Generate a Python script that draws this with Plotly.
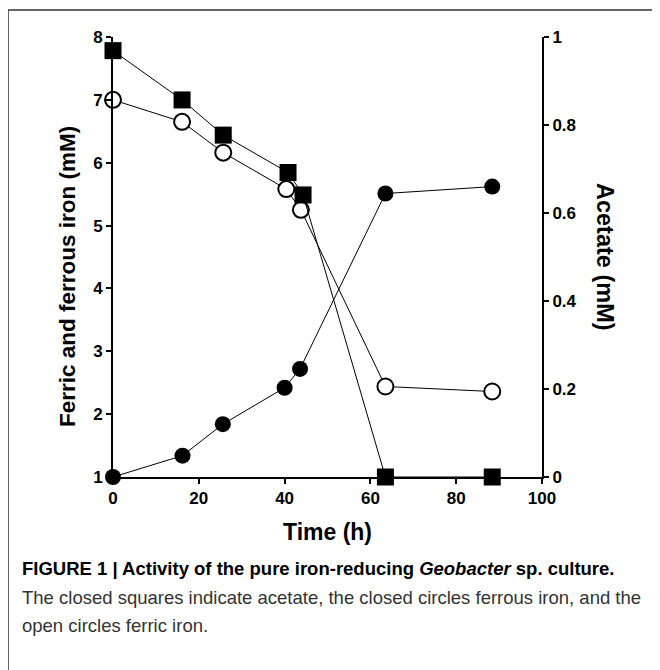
import plotly.graph_objects as go

# Data
time_acetate = [0, 16.1, 25.7, 40.8, 44.3, 63.5, 88.4]
acetate_mM = [0.969, 0.857, 0.777, 0.692, 0.641, 0.0, 0.0]

time_ferric = [0, 16.1, 25.7, 40.4, 43.8, 63.5, 88.4]
ferric_mM = [7.0, 6.65, 6.16, 5.58, 5.25, 2.44, 2.36]

time_ferrous = [0, 16.2, 25.6, 40.0, 43.6, 63.5, 88.4]
ferrous_mM = [1.0, 1.34, 1.84, 2.42, 2.72, 5.51, 5.62]

x_ticks = [0, 20, 40, 60, 80, 100]
left_ticks = [1, 2, 3, 4, 5, 6, 7, 8]
right_ticks = [0, 0.2, 0.4, 0.6, 0.8, 1]
right_ticklabels = ["0", "0.2", "0.4", "0.6", "0.8", "1"]

# Plot area in reference pixels; page body adds an 8px offset
W, H = 660, 670
OFF = 8
L, R, T, B = 113, 542, 37, 477
pw, ph = R - L, B - T

def px(x):
    return (x - L) / pw

def py(y):
    return (B - y) / ph

FONT = "Liberation Sans, Arial, sans-serif"

fig = go.Figure()

fig.add_trace(go.Scatter(
    x=time_acetate, y=acetate_mM, yaxis="y2", mode="lines+markers",
    line=dict(color="black", width=1),
    marker=dict(symbol="square", size=17, color="black"),
    cliponaxis=False, showlegend=False, name="Acetate"))

fig.add_trace(go.Scatter(
    x=time_ferric, y=ferric_mM, mode="lines+markers",
    line=dict(color="black", width=1),
    marker=dict(symbol="circle", size=16, color="white",
                line=dict(color="black", width=2)),
    cliponaxis=False, showlegend=False, name="Ferric iron"))

fig.add_trace(go.Scatter(
    x=time_ferrous, y=ferrous_mM, mode="lines+markers",
    line=dict(color="black", width=1),
    marker=dict(symbol="circle", size=16, color="black"),
    cliponaxis=False, showlegend=False, name="Ferrous iron"))

tickfont = dict(family=FONT, size=17, color="black", weight="bold")

fig.update_layout(
    width=W, height=H,
    margin=dict(l=L - OFF, r=W - R + OFF, t=T - OFF, b=H - B + OFF, pad=0),
    paper_bgcolor="white", plot_bgcolor="white",
    xaxis=dict(range=[0, 100], tickvals=x_ticks, showgrid=False, zeroline=False,
               showline=True, linecolor="black", linewidth=2,
               ticks="outside", ticklen=5, tickwidth=2, tickcolor="black",
               tickfont=tickfont),
    yaxis=dict(range=[1, 8], tickvals=left_ticks, showgrid=False, zeroline=False,
               showline=True, linecolor="black", linewidth=2,
               ticks="outside", ticklen=5, tickwidth=2, tickcolor="black",
               tickfont=tickfont),
    yaxis2=dict(range=[0, 1], tickvals=right_ticks, ticktext=right_ticklabels,
                overlaying="y", side="right", showgrid=False, zeroline=False,
                showline=True, linecolor="black", linewidth=2,
                ticks="outside", ticklen=5, tickwidth=2, tickcolor="black",
                tickfont=tickfont),
)

def tf(size):
    return dict(family=FONT, size=size, color="black", weight="bold")

annotations = [
    dict(text="Ferric and ferrous iron (mM)", x=px(67), y=py(277), textangle=-90,
         font=tf(22.5)),
    dict(text="Acetate (mM)", x=px(605), y=py(257), textangle=90, font=tf(23.5)),
    dict(text="Time (h)", x=px(327), y=py(532), font=tf(23)),
    dict(text="<b>FIGURE 1 | Activity of the pure iron-reducing <i>Geobacter</i> sp. culture.</b>",
         x=px(20), y=py(568), xanchor="left",
         font=dict(family=FONT, size=18.5, color="black")),
    dict(text="The closed squares indicate acetate, the closed circles ferrous iron, and the",
         x=px(20), y=py(597), xanchor="left",
         font=dict(family=FONT, size=18.5, color="#333333")),
    dict(text="open circles ferric iron.",
         x=px(20), y=py(625), xanchor="left",
         font=dict(family=FONT, size=18.5, color="#333333")),
]
for a in annotations:
    a.setdefault("xanchor", "center")
    a.update(xref="paper", yref="paper", yanchor="middle", showarrow=False)
fig.update_layout(annotations=annotations)

# Outer frame (left and top edges visible)
fig.add_shape(type="line", xref="paper", yref="paper",
              x0=px(8), y0=py(10), x1=px(700), y1=py(10),
              line=dict(color="#333333", width=1.5))
fig.add_shape(type="line", xref="paper", yref="paper",
              x0=px(8), y0=py(10), x1=px(8), y1=py(700),
              line=dict(color="#333333", width=1.5))

fig.write_html("out.html")
